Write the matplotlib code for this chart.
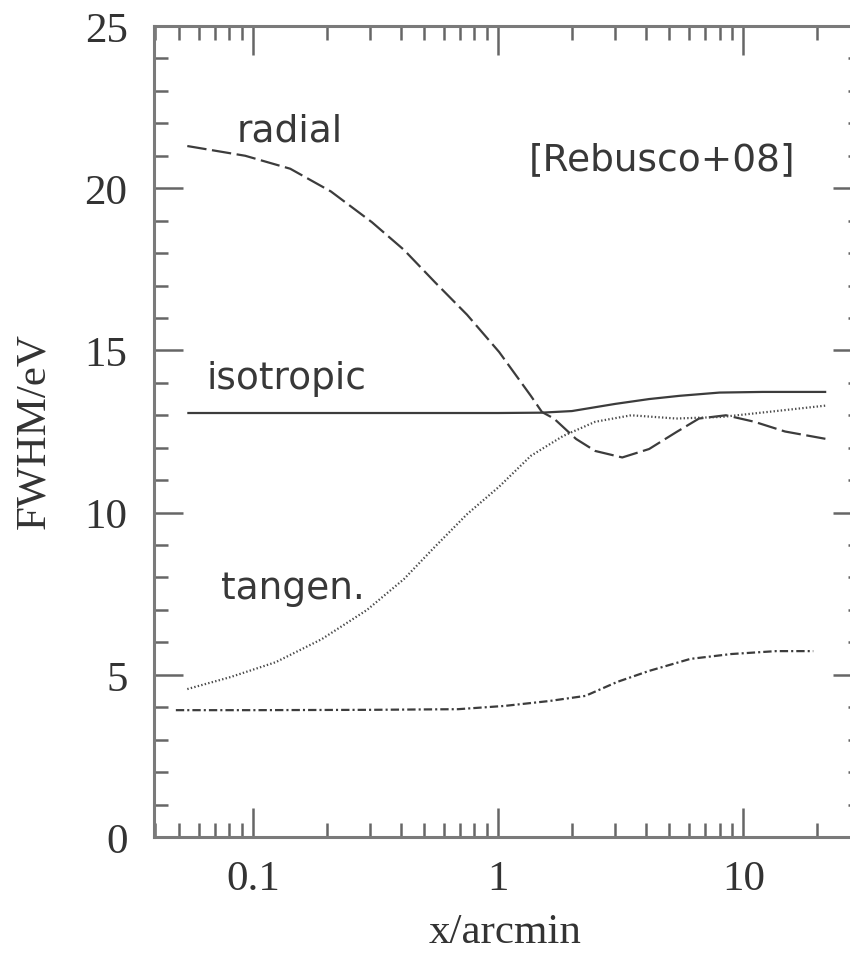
import matplotlib
matplotlib.use("Agg")
import matplotlib.pyplot as plt
from matplotlib.ticker import LogLocator, FixedLocator, MultipleLocator, FixedFormatter, NullFormatter

# ---- data ----
radial_x = [0.054, 0.093, 0.142, 0.208, 0.306, 0.413, 0.553, 0.747, 1.01, 1.36, 1.51,
            1.69, 2.08, 2.49, 3.21, 4.13, 5.33, 6.6, 8.5, 11.1, 14.8, 21.8]
radial_y = [21.3, 21.0, 20.6, 19.9, 18.95, 18.1, 17.1, 16.1, 14.95, 13.6, 13.1,
            12.9, 12.27, 11.9, 11.7, 11.96, 12.48, 12.9, 13.0, 12.8, 12.5, 12.27]

iso_x = [0.054, 0.1, 0.3, 1.0, 1.5, 2.0, 3.0, 4.13, 5.5, 8.0, 12.0, 21.8]
iso_y = [13.07, 13.07, 13.07, 13.07, 13.08, 13.13, 13.35, 13.5, 13.6, 13.7, 13.72, 13.72]

tan_x = [0.054, 0.081, 0.124, 0.191, 0.292, 0.413, 0.553, 0.747, 1.01, 1.36, 1.84,
         2.49, 3.49, 5.33, 8.2, 13.6, 21.8]
tan_y = [4.56, 4.93, 5.39, 6.1, 7.0, 7.95, 8.95, 9.95, 10.8, 11.75, 12.36,
         12.8, 13.0, 12.9, 12.95, 13.13, 13.3]

dd_x = [0.0485, 0.1, 0.3, 0.687, 1.06, 1.61, 2.27, 3.06, 4.13, 6.08, 8.93, 13.6, 19.3]
dd_y = [3.91, 3.91, 3.92, 3.94, 4.04, 4.19, 4.35, 4.78, 5.12, 5.49, 5.64, 5.73, 5.73]

xtick_vals = [0.1, 1, 10]
xtick_labels = ["0.1", "1", "10"]
ytick_vals = [0, 5, 10, 15, 20, 25]
ytick_labels = ["0", "5", "10", "15", "20", "25"]

W, H = 850, 954
plt.rcParams['lines.scale_dashes'] = False
fig = plt.figure(figsize=(W / 100, H / 100), dpi=100)
L, R, T, B = 154, 862, 27, 838
ax = fig.add_axes([L / W, 1 - B / H, (R - L) / W, (B - T) / H])

line_col = "#3c3c3c"
ax.plot(radial_x, radial_y, color=line_col, lw=1.6, dashes=(14, 4))
ax.plot(iso_x, iso_y, color=line_col, lw=1.6, solid_capstyle='butt')
ax.plot(tan_x, tan_y, color="#4a4a4a", lw=1.6, dashes=(1, 1.6))
ax.plot(dd_x, dd_y, color=line_col, lw=1.6, dashes=(6, 2.2, 1.5, 2.2))

ax.set_xscale('log')
ax.set_xlim(0.0395, 30.5)
ax.set_ylim(0, 25)

ax.xaxis.set_major_locator(FixedLocator(xtick_vals))
ax.xaxis.set_major_formatter(FixedFormatter(xtick_labels))
ax.xaxis.set_minor_locator(LogLocator(base=10, subs=range(2, 10), numticks=20))
ax.xaxis.set_minor_formatter(NullFormatter())
ax.yaxis.set_major_locator(FixedLocator(ytick_vals))
ax.yaxis.set_major_formatter(FixedFormatter(ytick_labels))
ax.yaxis.set_minor_locator(MultipleLocator(1))

spine_col = "#7a7a7a"
for s in ax.spines.values():
    s.set_color(spine_col)
    s.set_linewidth(2.2)

ax.tick_params(which='both', direction='in', top=True, right=True, color="#666666", width=1.8)
ax.tick_params(which='major', length=21)
ax.tick_params(which='minor', length=10)
ax.tick_params(axis='x', which='major', pad=16, labelsize=31, labelcolor="#333333")
ax.tick_params(axis='y', which='major', pad=19, labelsize=31, labelcolor="#333333")
for lab in ax.get_xticklabels() + ax.get_yticklabels():
    lab.set_family("Liberation Serif")

ax.set_xlabel("x/arcmin", fontfamily="Liberation Serif", fontsize=31, color="#333333")
ax.set_ylabel("FWHM/eV", fontfamily="Liberation Serif", fontsize=31, color="#333333")
ax.xaxis.label.set_va('baseline')
ax.xaxis.set_label_coords((505 - L) / (R - L), -(943 - B) / (B - T))
ax.yaxis.set_label_coords(-(L - 34) / (R - L), (B - 431) / (B - T))
ax.yaxis.label.set_va('center')

def ftext(px, py, s):
    fig.text(px / W, 1 - py / H, s, fontsize=27, family="DejaVu Sans",
             color="#383838", ha='left', va='baseline')

ftext(237, 142, "radial")
ftext(529, 170, "[Rebusco+08]")
ftext(207, 389, "isotropic")
ftext(221, 599, "tangen.")

fig.savefig("out.png", dpi=100)
